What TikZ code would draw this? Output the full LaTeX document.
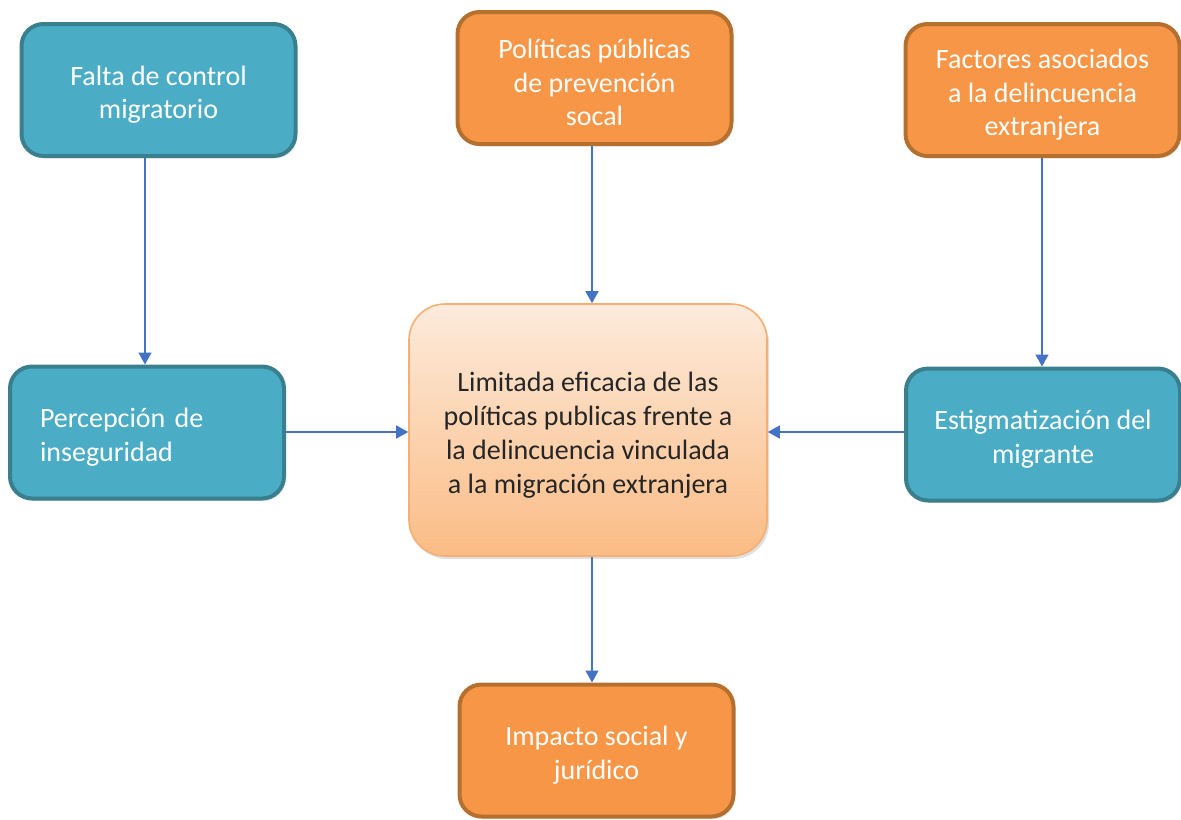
\documentclass[tikz,border=0pt]{standalone}
\usepackage{fontspec}
\setmainfont{Carlito}
\usetikzlibrary{arrows.meta,shadows}
\definecolor{tealfill}{HTML}{4BACC6}
\definecolor{tealedge}{HTML}{3A7F8E}
\definecolor{orfill}{HTML}{F79646}
\definecolor{oredge}{HTML}{B5702F}
\definecolor{arrowblue}{HTML}{4472C4}
\definecolor{ctop}{HTML}{FDEBDC}
\definecolor{cbot}{HTML}{FBBC85}
\definecolor{cedge}{HTML}{F6AE72}
\definecolor{darktext}{HTML}{262626}
\newcommand\fstrut{\rule{0pt}{14.5pt}}
\tikzset{
  boxbase/.style={rounded corners=11pt, line width=2pt, text=white, align=center,
    font=\fontsize{14}{16.8}\selectfont, minimum width=137pt, minimum height=66pt,
    drop shadow={opacity=0.25, shadow xshift=0.8pt, shadow yshift=-1.2pt}},
  tealbox/.style={boxbase, draw=tealedge, fill=tealfill},
  orbox/.style={boxbase, draw=oredge, fill=orfill},
  centerbox/.style={rounded corners=18pt, line width=0.8pt, draw=cedge,
    top color=ctop, bottom color=cbot, text=darktext, align=center,
    font=\fontsize{14}{17}\selectfont, minimum width=179pt, minimum height=126pt,
    drop shadow={opacity=0.25, shadow xshift=1pt, shadow yshift=-1.5pt}},
  conn/.style={draw=arrowblue, line width=0.7pt, -{Triangle[width=6.5pt,length=6pt]}}
}
\begin{document}
\begin{tikzpicture}[x=0.5pt,y=-0.5pt]
\useasboundingbox (0,0) rectangle (1181,819);
\node[tealbox] (falta) at (158.5,90) {\fstrut Falta de control\\migratorio};
\node[orbox] (poli) at (594.5,78) {\fstrut Políticas públicas\\de prevención\\socal};
\node[orbox] (fact) at (1042.5,90) {\fstrut Factores asociados\\a la delincuencia\\extranjera};
\node[tealbox, align=left, text width=107pt, inner xsep=0pt] (perc) at (147,432.5) {\fstrut Percepción de\\inseguridad};
\node[tealbox] (estig) at (1043,434.5) {\fstrut Estigmatización del\\migrante};
\node[centerbox] (center) at (588,430) {\fstrut Limitada eficacia de las\\políticas publicas frente a\\la delincuencia vinculada\\a la migración extranjera};
\node[orbox] (imp) at (596.5,750.5) {\fstrut Impacto social y\\jurídico};
\draw[conn] (falta.south -| 145,0) -- (perc.north -| 145,0);
\draw[conn] (poli.south -| 592,0) -- (center.north -| 592,0);
\draw[conn] (fact.south -| 1042,0) -- (estig.north -| 1042,0);
\draw[conn] (perc.east |- 0,432) -- (center.west |- 0,432);
\draw[conn] (estig.west |- 0,432) -- (center.east |- 0,432);
\draw[conn] (center.south -| 592,0) -- (imp.north -| 592,0);
\end{tikzpicture}
\end{document}
